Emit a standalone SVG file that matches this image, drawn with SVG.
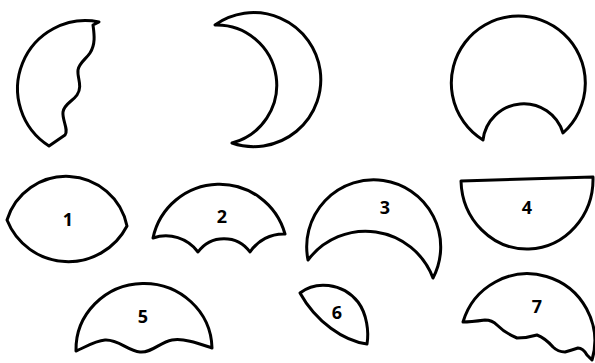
<svg xmlns="http://www.w3.org/2000/svg" width="595" height="363" viewBox="0 0 595 363">
<style>
.s{fill:#fff;stroke:#000;stroke-width:3;stroke-linejoin:round;stroke-linecap:round}
.t{font-family:"Open Sans","Liberation Sans",sans-serif;font-weight:700;font-size:18px;fill:#000;text-anchor:middle}
</style>
<rect width="595" height="363" fill="#fff"/>
<g id="shapeA"><path class="s" d="M99,22 L93,25 C94,33 96,44 90,53 C86,59 79,63 78,70 C77,78 83,86 77,95 C73,101 64,104 63,112 C62,120 69,130 65,135 L49,146 A68 68 0 0 1 99,22 Z"/></g>
<g id="shapeB"><path class="s" d="M215,25 A67 67 0 1 1 232,143 A60 60 0 0 0 215,25 Z"/></g>
<g id="shapeC"><path class="s" d="M483,140 A67 67 0 1 1 563,133 A41 41 0 0 0 483,140 Z"/></g>
<g id="shape1"><path class="s" d="M7,220 A62 62 0 0 1 127,226 A66 66 0 0 1 7,220 Z"/><text class="t" x="68" y="226">1</text></g>
<g id="shape2"><path class="s" d="M153,238 A68 68 0 0 1 285,234 A40 40 0 0 0 250,252 A32 32 0 0 0 198,252 A40 40 0 0 0 153,238 Z"/><text class="t" x="222" y="223">2</text></g>
<g id="shape3"><path class="s" d="M308,260 A67 67 0 1 1 433,278 A72 72 0 0 0 308,260 Z"/><text class="t" x="385" y="214">3</text></g>
<g id="shape4"><path class="s" d="M461,181 L593,177 A66 70 0 0 1 461,181 Z"/><text class="t" x="527" y="214">4</text></g>
<g id="shape5"><path class="s" d="M76,351 A68 66 0 0 1 212,348 C200,344 185,338 172,340 C160,342 152,353 140,352 C128,351 118,339 105,340 C94,341 84,348 76,351 Z"/><text class="t" x="143" y="323">5</text></g>
<g id="shape6"><path class="s" d="M300,293 C315,281 342,282 358,302 C367,314 369,332 367,344 C344,341 316,322 300,293 Z"/><text class="t" x="337" y="319">6</text></g>
<g id="shape7"><path class="s" d="M463,322 A67 67 0 1 1 592,360 L587,355 Q583,348 578,348 Q572,350 565,352 Q558,352 553,347 Q545,338 537,335 Q527,338 517,338 Q505,333 497,325 Q492,320 485,320 Q470,322 463,322 Z"/><text class="t" x="537" y="313">7</text></g>
</svg>
